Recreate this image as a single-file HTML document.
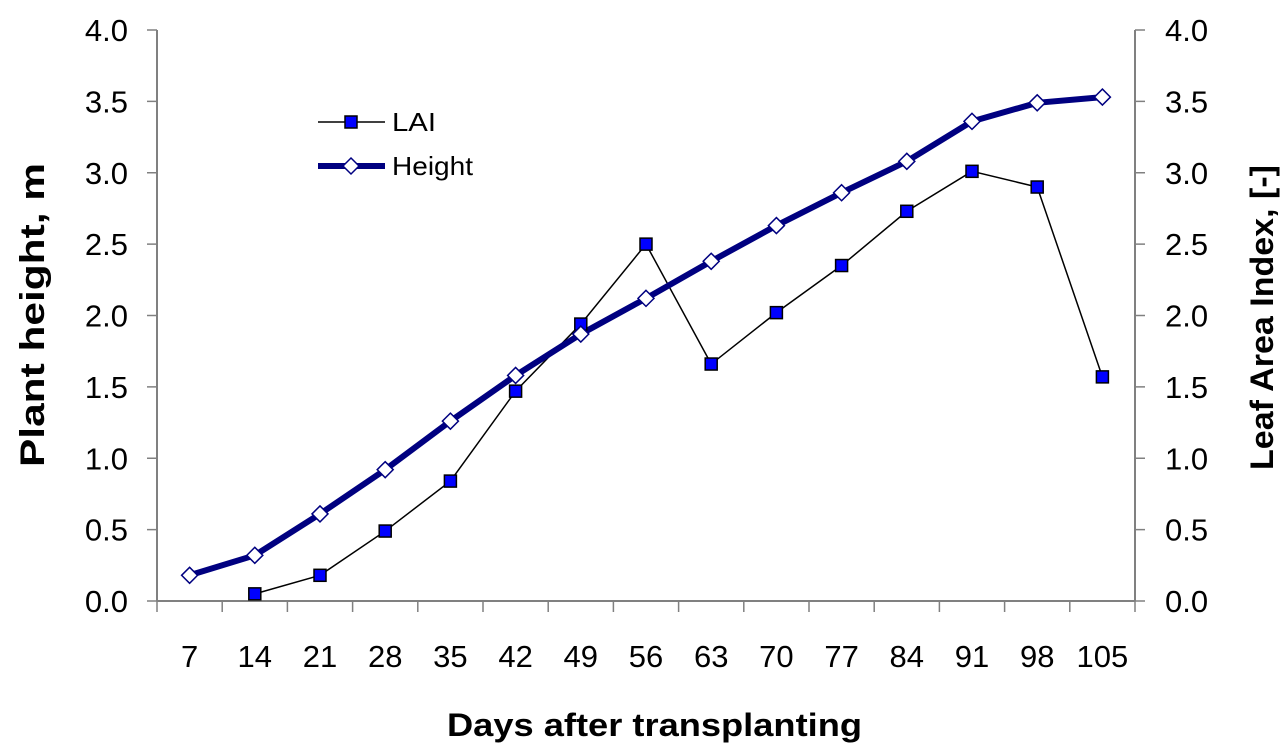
<!DOCTYPE html>
<html><head><meta charset="utf-8"><style>
body{margin:0;background:#fff}
svg{display:block;font-family:"Liberation Sans",sans-serif}
</style></head><body>
<svg width="1287" height="747" viewBox="0 0 1287 747">
<g id="axes"></g><g id="series"></g>
<g>
<line x1="318" y1="122" x2="385" y2="122" stroke="#000" stroke-width="1.5"/>
<rect x="345" y="116" width="12" height="12" fill="#0000ff" stroke="#000" stroke-width="1.5"/>
<text x="392" y="131" font-size="26" textLength="44" lengthAdjust="spacingAndGlyphs">LAI</text>
<line x1="318" y1="166" x2="385" y2="166" stroke="#000080" stroke-width="6"/>
<polygon points="351,158 359,166 351,174 343,166" fill="#fff" stroke="#000080" stroke-width="1.5"/>
<text x="392" y="175" font-size="26" textLength="81" lengthAdjust="spacingAndGlyphs">Height</text>
</g>
<text x="447" y="736" font-size="32" font-weight="bold" textLength="415" lengthAdjust="spacingAndGlyphs">Days after transplanting</text>
<text transform="translate(44,467) rotate(-90)" font-size="34" font-weight="bold" textLength="304" lengthAdjust="spacingAndGlyphs">Plant height, m</text>
<text transform="translate(1273,470) rotate(-90)" font-size="32" font-weight="bold" textLength="305" lengthAdjust="spacingAndGlyphs">Leaf Area Index, [-]</text>
</svg>
<script>
const days=[7,14,21,28,35,42,49,56,63,70,77,84,91,98,105];
const heightVals=[0.18,0.32,0.61,0.92,1.26,1.58,1.87,2.12,2.38,2.63,2.86,3.08,3.36,3.49,3.53];
const laiVals=[null,0.05,0.18,0.49,0.84,1.47,1.94,2.50,1.66,2.02,2.35,2.73,3.01,2.90,1.57];
const yTicks=["0.0","0.5","1.0","1.5","2.0","2.5","3.0","3.5","4.0"];
const L=157,R=1135,T=30,B=601,NS="http://www.w3.org/2000/svg";
const bw=(R-L)/days.length;
const xs=i=>L+bw*(i+0.5);
const ys=v=>B-(B-T)*v/4;
function mk(t,a,p){const e=document.createElementNS(NS,t);for(const k in a)e.setAttribute(k,a[k]);p.appendChild(e);return e;}
const ax=document.getElementById('axes'),se=document.getElementById('series');
mk('line',{x1:L,y1:T,x2:L,y2:B,stroke:'#808080','stroke-width':2},ax);
mk('line',{x1:R,y1:T,x2:R,y2:B,stroke:'#808080','stroke-width':2},ax);
mk('line',{x1:L,y1:B,x2:R,y2:B,stroke:'#808080','stroke-width':2},ax);
yTicks.forEach((t,i)=>{const v=+t,y=ys(v);
mk('line',{x1:L-10,y1:y,x2:L,y2:y,stroke:'#808080','stroke-width':1.5},ax);
mk('line',{x1:R,y1:y,x2:R+10,y2:y,stroke:'#808080','stroke-width':1.5},ax);
let a=mk('text',{x:L-29,y:y+11,'font-size':31,'text-anchor':'end'},ax);a.textContent=t;


let b=mk('text',{x:R+30,y:y+11,'font-size':31},ax);b.textContent=t;

});
for(let i=0;i<=days.length;i++){const x=L+bw*i;mk('line',{x1:x,y1:B,x2:x,y2:B+11,stroke:'#808080','stroke-width':1.5},ax);}
days.forEach((d,i)=>{let t=mk('text',{x:xs(i),y:667,'font-size':31,'text-anchor':'middle'},ax);t.textContent=d;

});
let lp=[];laiVals.forEach((v,i)=>{if(v!=null)lp.push(xs(i)+','+ys(v));});
let pl=mk('polyline',{points:lp.join(' '),fill:'none',stroke:'#000','stroke-width':1.5},se);


let hp=heightVals.map((v,i)=>xs(i)+','+ys(v));
let ph=mk('polyline',{points:hp.join(' '),fill:'none',stroke:'#000080','stroke-width':6,'stroke-linejoin':'round'},se);


laiVals.forEach((v,i)=>{if(v==null)return;const x=xs(i),y=ys(v);
let r=mk('rect',{x:x-6,y:y-6,width:12,height:12,fill:'#0000ff',stroke:'#000','stroke-width':1.5},se);

});
heightVals.forEach((v,i)=>{const x=xs(i),y=ys(v);
let p=mk('polygon',{points:`${x},${y-8} ${x+8},${y} ${x},${y+8} ${x-8},${y}`,fill:'#fff',stroke:'#000080','stroke-width':1.5},se);

});
</script>
</body></html>
